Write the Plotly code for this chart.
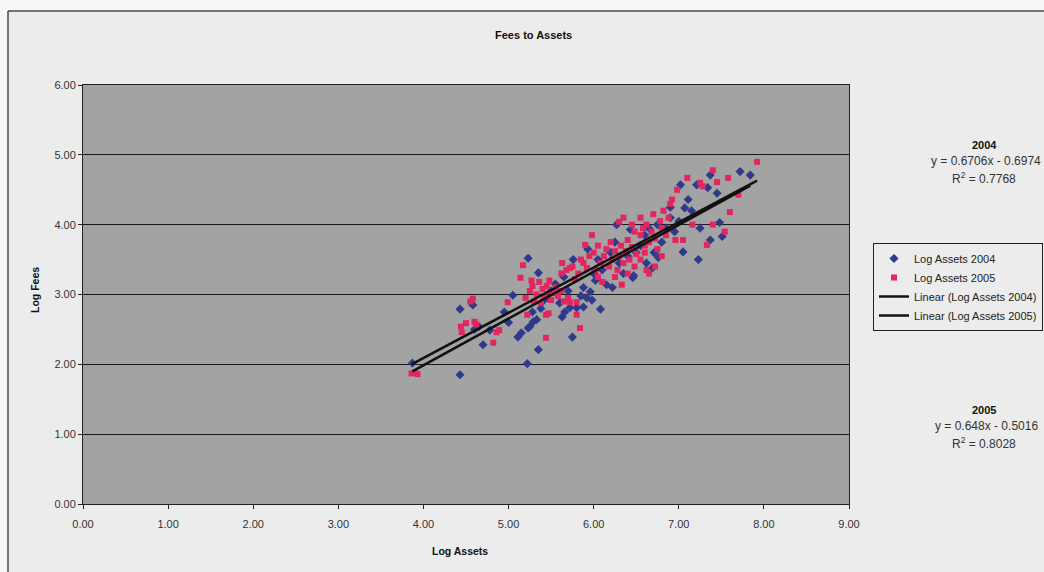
import plotly.graph_objects as go

# ---- data ----
x_2004 = [3.87, 4.43, 4.43, 4.58, 4.65, 4.70, 4.78, 4.60, 5.05, 5.11, 5.22, 5.23, 5.29, 5.35,
          5.23, 5.35, 5.28, 5.33, 5.25, 5.38, 5.60, 5.63, 5.66, 5.72, 5.75, 5.80, 5.88, 5.98,
          6.08, 5.15, 5.76, 5.93, 6.27, 6.46, 6.22, 6.15, 5.96, 6.02, 5.88, 5.85, 5.92, 6.43,
          6.69, 6.47, 6.71, 6.76, 7.05, 7.23, 7.37, 7.51, 7.48, 7.11, 7.07, 7.02, 7.21, 7.34,
          7.37, 7.72, 7.84, 6.55, 6.60, 6.85, 6.90, 6.40, 6.30, 6.20, 6.10, 6.35, 6.62, 6.80,
          7.00, 6.95, 7.15, 5.50, 5.55, 5.45, 5.70, 5.65, 6.05, 6.25, 6.50, 6.75, 5.40, 4.95,
          5.00, 6.65, 7.25, 6.00, 6.90, 7.45]
y_2004 = [2.02, 1.85, 2.79, 2.85, 2.54, 2.28, 2.49, 2.50, 2.99, 2.39, 2.01, 2.52, 2.61, 2.21,
          3.52, 3.31, 2.75, 2.64, 2.54, 2.80, 2.88, 2.68, 2.75, 2.81, 2.39, 2.81, 2.82, 2.92,
          2.79, 2.45, 3.50, 3.65, 4.00, 3.24, 3.10, 3.14, 3.04, 3.20, 3.10, 2.98, 2.95, 3.93,
          3.38, 3.27, 3.60, 3.53, 3.61, 3.50, 3.78, 3.83, 4.03, 4.36, 4.24, 4.57, 4.57, 4.53,
          4.71, 4.76, 4.71, 3.70, 3.85, 3.95, 4.10, 3.55, 3.45, 3.60, 3.35, 3.30, 3.45, 3.75,
          4.05, 3.90, 4.20, 3.05, 3.15, 2.95, 3.05, 3.25, 3.50, 3.75, 3.60, 4.00, 2.90, 2.75,
          2.60, 3.95, 3.95, 3.30, 4.25, 4.45]

x_2005 = [3.86, 3.90, 3.93, 4.45, 4.50, 4.60, 4.44, 4.58, 4.55, 4.62, 4.82, 4.89, 4.86, 4.99,
          5.14, 5.17, 5.22, 5.44, 5.44, 5.47, 5.84, 5.80, 5.72, 5.80, 5.63, 5.72, 5.85, 5.90,
          5.98, 6.33, 6.30, 6.35, 6.55, 6.92, 6.98, 7.10, 7.16, 7.40, 7.33, 7.54, 7.60, 7.70,
          7.45, 7.40, 7.58, 7.92, 7.25, 7.28, 7.05, 6.96, 6.80, 6.60,
          5.20, 5.25, 5.28, 5.30, 5.33, 5.36, 5.40, 5.42, 5.45, 5.48, 5.50, 5.52, 5.55, 5.38,
          5.27, 5.58, 5.62, 5.65, 5.70, 5.62, 5.68, 5.75, 5.78, 5.82, 5.88, 5.95, 5.92,
          6.00, 6.05, 6.08, 6.12, 6.15, 6.18, 6.20, 6.22, 6.25, 6.28, 6.30, 6.32, 6.35, 6.38,
          6.40, 6.42, 6.45, 6.48, 6.50, 6.05, 6.10, 6.02, 6.25, 6.40,
          6.55, 6.58, 6.60, 6.62, 6.65, 6.68, 6.70, 6.72, 6.75, 6.78, 6.80, 6.82, 6.85, 6.88,
          6.90, 6.62, 6.72, 6.55, 6.65, 6.48, 6.45]
y_2005 = [1.87, 1.88, 1.86, 2.46, 2.59, 2.61, 2.54, 2.94, 2.90, 2.57, 2.31, 2.49, 2.46, 2.89,
          3.24, 3.42, 2.71, 2.38, 2.71, 2.73, 2.52, 2.89, 2.89, 2.71, 3.45, 3.38, 3.50, 3.71,
          3.85, 3.14, 4.04, 4.10, 4.10, 4.36, 4.50, 4.67, 4.00, 4.00, 3.71, 3.90, 4.18, 4.43,
          4.61, 4.78, 4.67, 4.90, 4.60, 4.55, 3.78, 3.78, 3.55, 3.70,
          2.95, 3.05, 3.12, 2.90, 3.00, 3.18, 3.08, 2.98, 3.12, 3.20, 2.92, 3.02, 3.10, 2.88,
          3.20, 2.98, 3.05, 2.90, 2.95, 3.30, 3.35, 3.40, 3.22, 3.30, 3.45, 3.55, 3.38,
          3.60, 3.70, 3.45, 3.55, 3.65, 3.40, 3.75, 3.50, 3.62, 3.35, 3.55, 3.70, 3.45, 3.62,
          3.78, 3.50, 3.68, 3.40, 3.58, 3.25, 3.18, 3.35, 3.25, 3.30,
          3.85, 3.95, 3.60, 4.00, 3.75, 3.90, 4.15, 3.80, 3.65, 4.05, 3.95, 4.20, 3.85, 4.10,
          4.30, 3.35, 3.40, 3.50, 3.30, 3.90, 4.00]

# trendline equations shown in the chart
slope_2004, intercept_2004, r2_2004 = 0.6706, -0.6974, 0.7768
slope_2005, intercept_2005, r2_2005 = 0.648, -0.5016, 0.8028

x_ticks = [0, 1, 2, 3, 4, 5, 6, 7, 8, 9]
y_ticks = [0, 1, 2, 3, 4, 5, 6]

# ---- layout geometry (pixels) ----
W, H = 1044, 572
L, R, T, B = 83, 849, 85, 504


def px(x):
    return (x - L) / (R - L)


def py(y):
    return (B - y) / (B - T)


FONT = "Liberation Sans, Arial, sans-serif"

fig = go.Figure()

fig.add_trace(go.Scatter(
    x=x_2004, y=y_2004, mode="markers", name="Log Assets 2004",
    marker=dict(symbol="diamond", size=7, color="#2f3a8c", line=dict(width=0)),
))
fig.add_trace(go.Scatter(
    x=x_2005, y=y_2005, mode="markers", name="Log Assets 2005",
    marker=dict(symbol="square", size=6, color="#e2265f", line=dict(width=0)),
))

tx04 = [min(x_2004), max(x_2004)]
tx05 = [min(x_2005), max(x_2005)]
fig.add_trace(go.Scatter(
    x=tx04, y=[slope_2004 * v + intercept_2004 for v in tx04], mode="lines",
    name="Linear (Log Assets 2004)", line=dict(color="#111111", width=2.5),
))
fig.add_trace(go.Scatter(
    x=tx05, y=[slope_2005 * v + intercept_2005 for v in tx05], mode="lines",
    name="Linear (Log Assets 2005)", line=dict(color="#111111", width=2.5),
))

# white page outside the chart area (left strip and top strip)
fig.add_shape(type="rect", xref="paper", yref="paper",
              x0=px(-20), x1=px(8), y0=py(600), y1=py(-20),
              fillcolor="#f7f7f7", line=dict(width=0), layer="below")
fig.add_shape(type="rect", xref="paper", yref="paper",
              x0=px(-20), x1=px(1100), y0=py(11), y1=py(-20),
              fillcolor="#f7f7f7", line=dict(width=0), layer="below")
# chart-area border
fig.add_shape(type="line", xref="paper", yref="paper",
              x0=px(8), x1=px(8), y0=py(600), y1=py(11),
              line=dict(color="#4a4a4a", width=1.5))
fig.add_shape(type="line", xref="paper", yref="paper",
              x0=px(8), x1=px(1100), y0=py(11), y1=py(11),
              line=dict(color="#4a4a4a", width=1.5))

ann = []
ann.append(dict(text="<b>Fees to Assets</b>", x=px(533), y=py(35), xref="paper", yref="paper",
                xanchor="center", yanchor="middle",
                showarrow=False, font=dict(size=11, color="#111111", family=FONT)))
ann.append(dict(text="<b>Log Assets</b>", x=px(460), y=py(551), xref="paper", yref="paper",
                xanchor="center", yanchor="middle",
                showarrow=False, font=dict(size=10.5, color="#111111", family=FONT)))
ann.append(dict(text="<b>Log Fees</b>", x=px(35), y=py(290), xref="paper", yref="paper",
                xanchor="center", yanchor="middle",
                showarrow=False, textangle=-90, font=dict(size=10.5, color="#111111", family=FONT)))

for label, slope, icpt, r2, yy in [("2004", slope_2004, intercept_2004, r2_2004, 145),
                                   ("2005", slope_2005, intercept_2005, r2_2005, 410)]:
    ann.append(dict(text=f"<b>{label}</b>", x=px(984), y=py(yy), xref="paper", yref="paper",
                    xanchor="center", yanchor="middle",
                    showarrow=False, font=dict(size=11, color="#111111", family=FONT)))
    ann.append(dict(text=f"y = {slope}x - {abs(icpt):.4f}", x=px(986), y=py(yy + 16),
                    xref="paper", yref="paper", xanchor="center", yanchor="middle",
                    showarrow=False, font=dict(size=12, color="#333333", family=FONT)))
    ann.append(dict(text=f"R<sup>2</sup> = {r2}", x=px(984), y=py(yy + 33),
                    xref="paper", yref="paper", xanchor="center", yanchor="middle",
                    showarrow=False, font=dict(size=12, color="#333333", family=FONT)))

fig.update_layout(
    width=W, height=H,
    margin=dict(l=L, r=W - R, t=T, b=H - B, autoexpand=False),
    paper_bgcolor="#ececec",
    plot_bgcolor="#a3a3a3",
    font=dict(family=FONT, size=11, color="#333333"),
    showlegend=True,
    legend=dict(x=px(873), y=py(243), xanchor="left", yanchor="top",
                bgcolor="#ececec", bordercolor="#222222", borderwidth=1,
                font=dict(size=11, color="#222222", family=FONT),
                tracegroupgap=0, itemwidth=30),
    annotations=ann,
    xaxis=dict(range=[0, 9], tickvals=x_ticks, ticktext=[f"{v:.2f}" for v in x_ticks],
               showgrid=False, zeroline=False, showline=True, linecolor="#222222",
               linewidth=1, mirror=True, ticks="outside", ticklen=4, tickcolor="#222222",
               ticklabelstandoff=6,
               tickfont=dict(size=11, color="#333333")),
    yaxis=dict(range=[0, 6], tickvals=y_ticks, ticktext=[f"{v:.2f}" for v in y_ticks],
               showgrid=True, gridcolor="#1a1a1a", gridwidth=1, zeroline=False,
               showline=True, linecolor="#222222", linewidth=1, mirror=True,
               ticks="outside", ticklen=4, tickcolor="#222222",
               tickfont=dict(size=11, color="#333333")),
)

fig.write_html("out.html")
